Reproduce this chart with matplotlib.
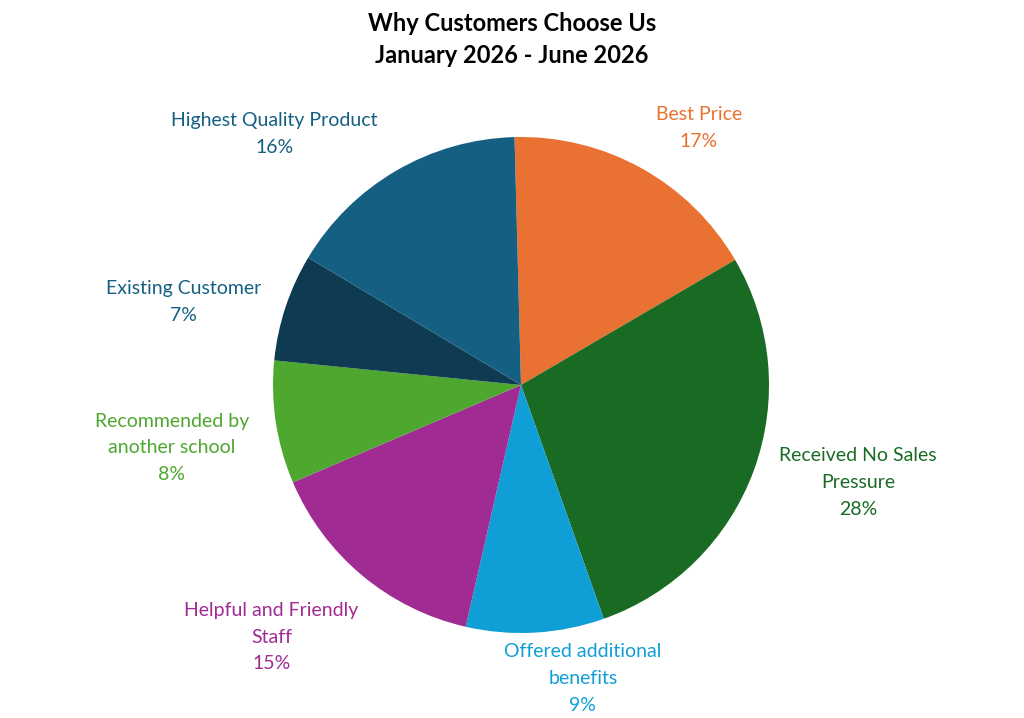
import matplotlib
matplotlib.use("Agg")
import matplotlib.pyplot as plt
import numpy as np

categories = ["Best Price", "Received No Sales\nPressure", "Offered additional\nbenefits",
              "Helpful and Friendly\nStaff", "Recommended by\nanother school",
              "Existing Customer", "Highest Quality Product"]
values = [17, 28, 9, 15, 8, 7, 16]
colors = ["#E97132", "#196B24", "#0F9ED5", "#A02B93", "#4EA72E", "#0E3A52", "#156082"]
label_colors = ["#E97132", "#196B24", "#0F9ED5", "#A02B93", "#4EA72E", "#156082", "#156082"]
label_angle = [55.3, -16.1, -78.1, -134.7, -169.8, 166.2, 134.5]
label_r = [1.26, 1.415, 1.21, 1.43, 1.43, 1.40, 1.42]

plt.rcParams['font.family'] = ['Lato', 'DejaVu Sans']
fig = plt.figure(figsize=(10.24, 7.18), dpi=100)
ax = fig.add_axes([0, 0, 1, 1])
cx, cy, R = 521, 333, 248
ax.pie(values, colors=colors, startangle=91.5, counterclock=False,
       center=(cx, cy), radius=R, frame=True)
ax.set_xlim(0, 1024); ax.set_ylim(0, 718); ax.set_aspect('equal'); ax.axis('off')
for cat, v, c, a, lr in zip(categories, values, label_colors, label_angle, label_r):
    x = cx + lr * R * np.cos(np.radians(a))
    y = cy + lr * R * np.sin(np.radians(a))
    ax.text(x, y, f"{cat}\n{v}%", ha='center', va='center', color=c,
            fontsize=14, linespacing=1.7)
fig.text(0.5, 0.945, "Why Customers Choose Us\nJanuary 2026 - June 2026", ha='center',
         va='center', fontsize=17, fontweight='bold', linespacing=1.45)
fig.savefig("out.png", dpi=100)
